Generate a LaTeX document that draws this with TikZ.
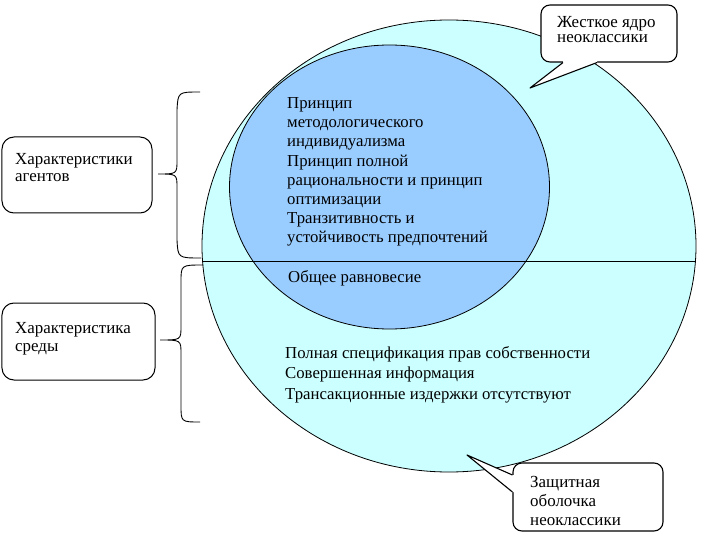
\documentclass[tikz,border=0pt]{standalone}
\usepackage{fontspec}
\setmainfont{Liberation Serif}
\usetikzlibrary{shapes.geometric,calc}
\definecolor{shellfill}{RGB}{204,255,255}
\definecolor{corefill}{RGB}{153,204,255}
\begin{document}
\begin{tikzpicture}[x=1bp,y=-1bp,
  txt/.style={anchor=base west, align=left, inner sep=0pt, font=\fontsize{16.8}{19.3}\selectfont},
  sidetxt/.style={anchor=base west, align=left, inner sep=0pt, font=\fontsize{17}{18}\selectfont},
  calltxt/.style={anchor=base west, align=left, inner sep=0pt},
  callout/.style={draw, fill=white, line width=1.1bp, rounded corners=9bp, inner sep=0pt},
  sidebox/.style={draw, fill=white, line width=1bp, rounded corners=12bp, inner sep=0pt},
  ring/.style={draw, ellipse, line width=0.8bp, inner sep=0pt},
  bracepath/.style={line width=0.9bp}]
\useasboundingbox (0,0) rectangle (720,540);
\fill[white] (0,0) rectangle (720,540);
% circles
\node[ring, fill=shellfill, minimum width=494bp, minimum height=452bp] (shell) at (449,246) {};
\node[ring, fill=corefill, minimum width=320bp, minimum height=284bp] (core) at (389.5,187) {};
\coordinate (splitL) at (202.5,261);
\coordinate (splitR) at (695.5,261);
\draw[line width=0.8bp] (splitL) -- (splitR);
% inner texts (base anchor = baseline of last line)
\node[txt] (coretext) at (287,243) {Принцип\\методологического\\индивидуализма\\Принцип полной\\рациональности и принцип\\оптимизации\\Транзитивность и\\устойчивость предпочтений};
\node[txt] (equil) at (288,283) {Общее равновесие};
\node[txt, font=\fontsize{16.8}{20.5}\selectfont] (envtext) at (285,399) {Полная спецификация прав собственности\\Совершенная информация\\Трансакционные издержки отсутствуют};
% top callout
\node[callout, minimum width=136bp, minimum height=57bp] (hardcore) at (609,33.5) {};
\coordinate (hardtip) at (530,88);
\fill[white] ($(hardcore.south)+(-46,-6)$) -- ($(hardcore.south)+(-46,0)$) -- (hardtip) -- ($(hardcore.south)+(-12,0)$) -- ($(hardcore.south)+(-12,-6)$) -- cycle;
\draw[line width=1.1bp, line join=round] ($(hardcore.south)+(-46,0)$) -- (hardtip) -- ($(hardcore.south)+(-12,0)$);
\node[calltxt, font=\fontsize{17}{16}\selectfont] (hardtext) at (557,43) {Жесткое ядро\\неоклассики};
% bottom callout
\node[callout, minimum width=150bp, minimum height=68bp] (belt) at (588,497) {};
\coordinate (belttip) at (467,455);
\fill[white] ($(belt.west)+(6,-22)$) -- ($(belt.west)+(0,-22)$) -- (belttip) -- ($(belt.west)+(0,-5)$) -- ($(belt.west)+(6,-5)$) -- cycle;
\draw[line width=1.1bp, line join=round] ($(belt.west)+(0,-22)$) -- (belttip) -- ($(belt.west)+(0,-5)$);
\node[calltxt, font=\fontsize{17}{19}\selectfont] (belttext) at (530,525) {Защитная\\оболочка\\неоклассики};
% left boxes
\node[sidebox, minimum width=150bp, minimum height=76bp] (agents) at (77,175) {};
\node[sidetxt] (agentstext) at (15,182) {Характеристики\\агентов};
\node[sidebox, minimum width=153bp, minimum height=77bp] (env) at (78.5,341.5) {};
\node[sidetxt] (envlabel) at (15,351.5) {Характеристика\\среды};
% braces
\coordinate (b1top) at (200,92);
\coordinate (b1tip) at (158,174);
\coordinate (b1bot) at (201,258);
\draw[bracepath] (b1top) .. controls (178,92) .. (177,110) -- (177,160) .. controls (177,174) .. (b1tip) .. controls (177,174) .. (177,188) -- (177,240) .. controls (178,258) .. (b1bot);
\coordinate (b2top) at (203,265);
\coordinate (b2tip) at (160,340);
\coordinate (b2bot) at (200,422);
\draw[bracepath] (b2top) .. controls (181,265) .. (181,282) -- (181,326) .. controls (181,340) .. (b2tip) .. controls (181,340) .. (181,354) -- (181,405) .. controls (181,422) .. (b2bot);
\end{tikzpicture}
\end{document}
